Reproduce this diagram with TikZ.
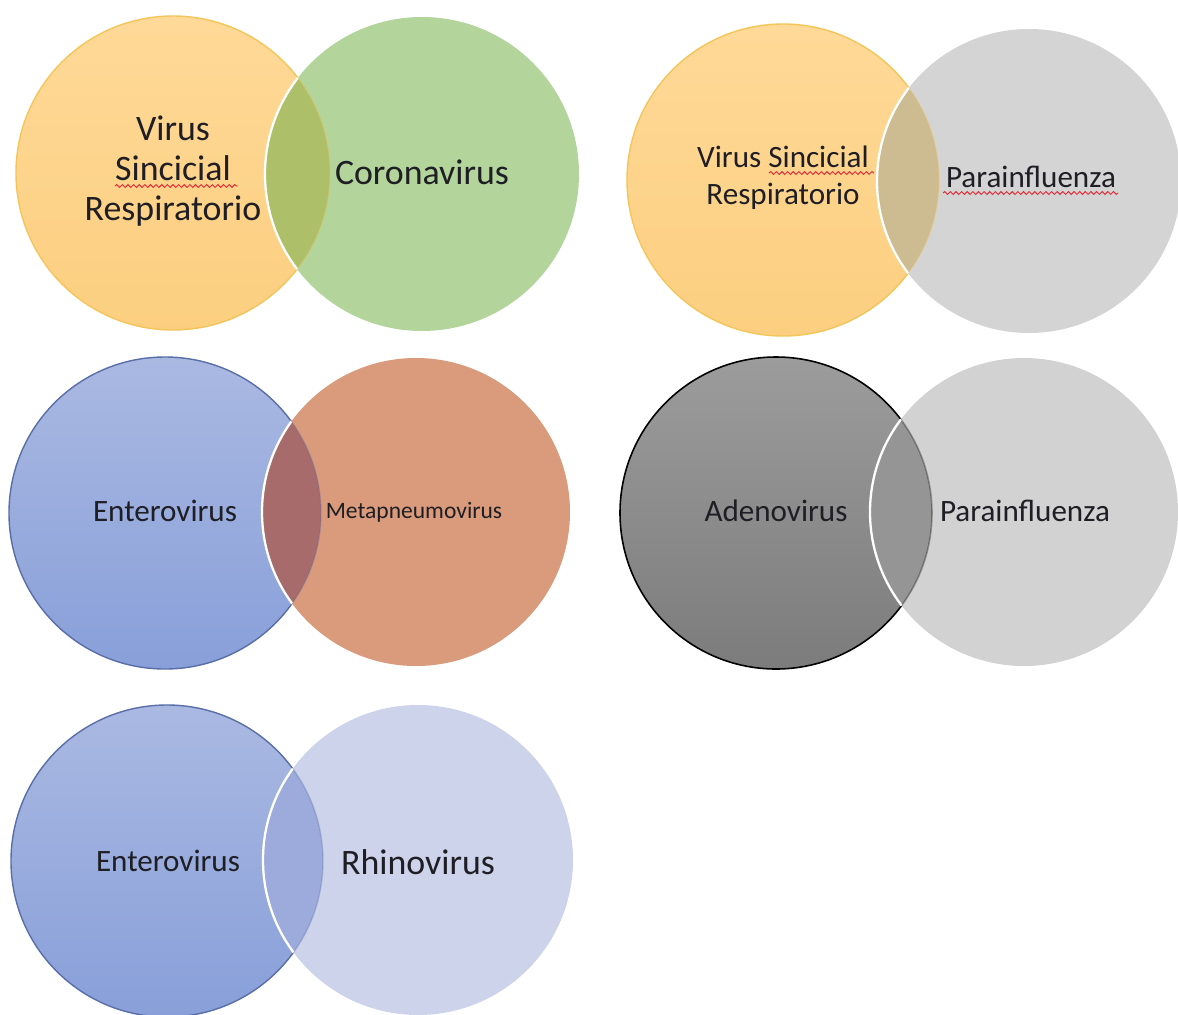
\documentclass[tikz,border=0pt]{standalone}
\usepackage{fontspec}
\setmainfont{Carlito}
\usetikzlibrary{decorations.pathmorphing}

\definecolor{inkc}{HTML}{1E1E24}
\definecolor{spellred}{HTML}{E0303A}
% orange / green
\definecolor{orgtop}{HTML}{FFD998}
\definecolor{orgbot}{HTML}{FCCF80}
\definecolor{orgrim}{HTML}{F3C55A}
\definecolor{greenf}{HTML}{B3D49B}
\definecolor{lensog}{HTML}{ADBF68}
% orange / grey
\definecolor{greyf}{HTML}{D4D4D4}
\definecolor{lensogr}{HTML}{CDBC92}
% blue / brown
\definecolor{bluetop}{HTML}{AAB9E2}
\definecolor{bluebot}{HTML}{889FD9}
\definecolor{bluerim}{HTML}{5A6EA8}
\definecolor{brownf}{HTML}{DA9A7C}
\definecolor{lensbb}{HTML}{A86B6B}
% dark grey / light grey
\definecolor{dgtop}{HTML}{9C9C9C}
\definecolor{dgbot}{HTML}{7C7C7C}
\definecolor{lgreyf}{HTML}{D2D2D2}
\definecolor{lensgg}{HTML}{959595}
% blue / lavender
\definecolor{lavf}{HTML}{CCD3EA}
\definecolor{lensbl}{HTML}{9CABDB}

\tikzset{
  lbl/.style={text=inkc, inner sep=0pt, anchor=base, font=\fontsize{20.4}{24}\selectfont},
  lblm/.style={lbl, font=\fontsize{17.7}{21}\selectfont},
  lbls/.style={lbl, font=\fontsize{13.4}{16}\selectfont},
  rim/.style={draw=white, line width=1.3pt},
  squiggle/.style={draw=spellred, line width=0.55pt, decorate,
    decoration={snake, amplitude=0.8pt, segment length=3.2pt}},
}

% One pair of overlapping circles:
% #1 left centre, #2 left radius, #3 left shading, #4 left outline,
% #5 right centre, #6 right radius, #7 right fill, #8 overlap fill
\newcommand\vennpair[8]{%
  \shade[#3] #1 circle (#2);
  \fill[#7] #5 circle (#6);
  \begin{scope}
    \clip #1 circle (#2);
    \fill[#8] #5 circle (#6);
  \end{scope}
  % outline of the left circle: full outside, faint inside the overlap
  \begin{scope}
    \clip (-10,-10) rectangle (1190,1030) #5 circle (#6);
  \end{scope}
  \begin{scope}
    \clip #5 circle (#6);
    \draw[#4, opacity=0.3] #1 circle (#2);
  \end{scope}
  \begin{scope}[even odd rule]
    \clip (-10,-10) rectangle (1190,1030) #5 circle (#6);
    \draw[#4] #1 circle (#2);
  \end{scope}
  \begin{scope}
    \clip #1 circle (#2);
    \draw[rim] #5 circle (#6);
  \end{scope}
}

\begin{document}
\begin{tikzpicture}[x=0.02cm, y=-0.02cm]
\useasboundingbox (0,0) rectangle (1178,1015);
\fill[white] (0,0) rectangle (1178,1015);

% ---------- Virus Sincicial Respiratorio / Coronavirus ----------
\vennpair{(173,173)}{157}{top color=orgtop, bottom color=orgbot}{orgrim, line width=0.8pt}
         {(422,174)}{157}{greenf}{lensog}
\node[lbl] (vsr1a) at (173,140) {Virus};
\node[lbl] (vsr1b) at (173,180) {Sincicial};
\node[lbl] (vsr1c) at (173,220) {Respiratorio};
\node[lbl] (cor) at (422,184) {Coronavirus};
\draw[squiggle] (115,186) -- (238,186);

% ---------- Virus Sincicial Respiratorio / Parainfluenza ----------
\vennpair{(783,180)}{156}{top color=orgtop, bottom color=orgbot}{orgrim, line width=0.8pt}
         {(1029,181)}{152}{greyf}{lensogr}
\node[lblm] (vsr2a) at (783,167) {Virus Sincicial};
\node[lblm] (vsr2b) at (783,204) {Respiratorio};
\node[lblm] (par1) at (1031,187) {Parainfluenza};
\draw[squiggle] (769,173) -- (874,173);
\draw[squiggle] (943,193) -- (1118,193);

% ---------- Enterovirus / Metapneumovirus ----------
\vennpair{(165,513)}{156}{top color=bluetop, bottom color=bluebot}{bluerim, line width=0.8pt}
         {(416,512)}{154}{brownf}{lensbb}
\node[lblm] (ent1) at (165,521) {Enterovirus};
\node[lbls] (meta) at (414,518) {Metapneumovirus};

% ---------- Adenovirus / Parainfluenza ----------
\vennpair{(776,513)}{156}{top color=dgtop, bottom color=dgbot}{black, line width=0.9pt}
         {(1024,512)}{154}{lgreyf}{lensgg}
\node[lblm] (adeno) at (776,521) {Adenovirus};
\node[lblm] (par2) at (1025,521) {Parainfluenza};

% ---------- Enterovirus / Rhinovirus ----------
\vennpair{(167,861)}{156}{top color=bluetop, bottom color=bluebot}{bluerim, line width=0.8pt}
         {(418,860)}{155}{lavf}{lensbl}
\node[lblm] (ent2) at (168,871) {Enterovirus};
\node[lbl] (rhino) at (418,874) {Rhinovirus};
\end{tikzpicture}
\end{document}
